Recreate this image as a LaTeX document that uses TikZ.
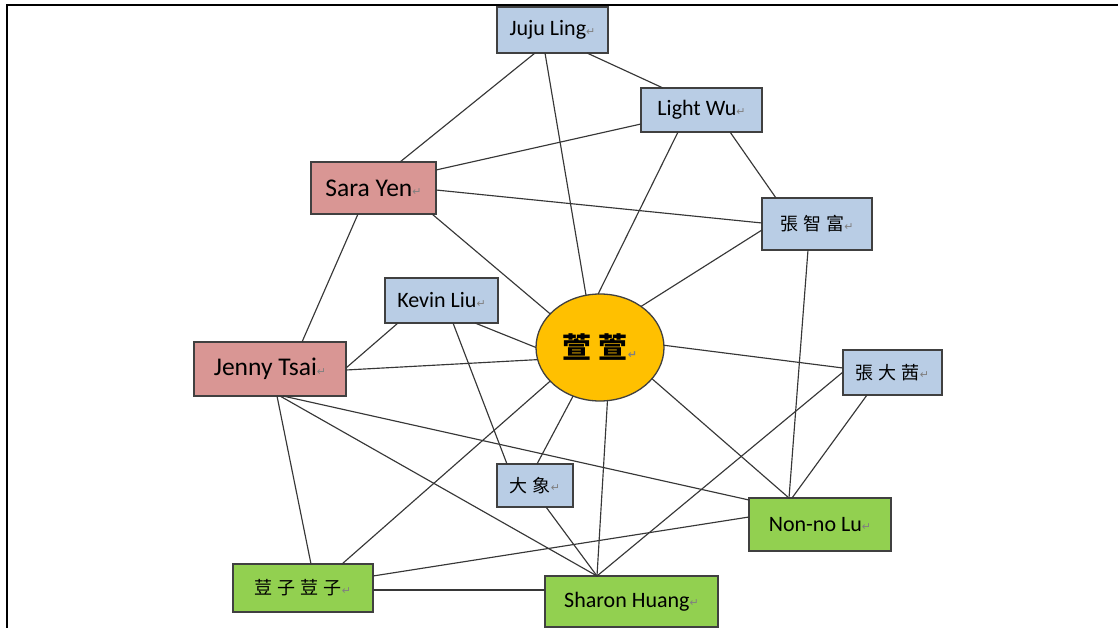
\documentclass[tikz,border=0pt]{standalone}
\usepackage{fontspec}
\setmainfont{Carlito}
\newfontfamily\cjk{Noto Sans CJK TC}
\newfontfamily\symfont{DejaVu Sans}
\usetikzlibrary{shapes.geometric}

\definecolor{boxblue}{RGB}{185,205,229}
\definecolor{boxpink}{RGB}{217,150,148}
\definecolor{boxgreen}{RGB}{146,208,80}
\definecolor{hubgold}{RGB}{255,192,0}
\definecolor{linkgray}{RGB}{55,55,55}
\definecolor{rimgray}{RGB}{64,64,64}

% paragraph mark shown after each label
\newcommand{\pmark}{{\symfont\fontsize{11}{11}\selectfont\color{gray}\raisebox{0.5pt}{↵}}}
\newcommand{\cg}{\hspace{5pt}}

\tikzset{
  person/.style={draw=rimgray, line width=1.3pt, rectangle, inner sep=0pt, outer sep=0pt,
                 text=black, font=\fontsize{22}{25}\selectfont},
  blue/.style={person, fill=boxblue},
  pink/.style={person, fill=boxpink, font=\fontsize{25.5}{28}\selectfont},
  green/.style={person, fill=boxgreen},
  hub/.style={draw=rimgray, line width=1.3pt, ellipse, fill=hubgold, inner sep=0pt, outer sep=0pt},
  link/.style={draw=linkgray, line width=1.15pt},
}

\begin{document}
\begin{tikzpicture}[x=1pt, y=-1pt]
\useasboundingbox (0,0) rectangle (1118,628);

% page frame
\draw[line width=2.4pt] (7,630) -- (7,5) -- (1120,5);

% people
\node[blue, minimum width=111pt, minimum height=46pt] (juju) at (552.5,30) {Juju Ling\pmark};
\node[blue, minimum width=121pt, minimum height=44pt] (light) at (701.5,110) {Light Wu\pmark};
\node[pink, minimum width=125pt, minimum height=52pt] (sara) at (373.5,188) {Sara Yen\pmark};
\node[blue, minimum width=110pt, minimum height=52pt] (zhi) at (817,224) {\cjk\fontsize{18}{20}\selectfont 張\cg 智\cg 富\pmark};
\node[blue, minimum width=99pt, minimum height=45pt] (dada) at (892.5,372.5) {\cjk\fontsize{18}{20}\selectfont 張\cg 大\cg 茜\pmark};
\node[blue, minimum width=113pt, minimum height=45pt] (kevin) at (441.5,300.5) {Kevin Liu\pmark};
\node[pink, minimum width=152pt, minimum height=54pt] (jenny) at (270,369) {Jenny Tsai\pmark};
\node[hub, minimum width=128pt, minimum height=107pt] (ell) at (600,347.5) {\cjk\bfseries\fontsize{29}{31}\selectfont 萱\hspace{7pt}萱\pmark};
\node[blue, minimum width=76pt, minimum height=43pt] (dax) at (535,485.5) {\cjk\fontsize{18}{20}\selectfont 大\cg 象\pmark};
\node[green, minimum width=140pt, minimum height=48pt] (douzi) at (303,588) {\cjk\fontsize{18}{20}\selectfont 荳\cg 子\cg 荳\cg 子\pmark};
\node[green, minimum width=173pt, minimum height=51pt] (sharon) at (631.5,601.5) {Sharon Huang\pmark};
\node[green, minimum width=142pt, minimum height=53pt] (nonno) at (820,524.5) {Non-no Lu\pmark};

% relations
\draw[link] ([xshift=38pt]juju.south west) -- ([xshift=89pt]sara.north west);
\draw[link] ([xshift=48pt]juju.south west) -- (ell.105);
\draw[link] ([xshift=90pt]juju.south west) -- ([xshift=22pt]light.north west);
\draw[link] ([yshift=-36pt]light.north west) -- ([yshift=-8pt]sara.north east);
\draw[link] ([xshift=37pt]light.south west) -- (ell.92);
\draw[link] ([xshift=89pt]light.south west) -- ([xshift=14pt]zhi.north west);
\draw[link] ([yshift=-28pt]sara.north east) -- ([yshift=-25pt]zhi.north west);
\draw[link] ([xshift=-4pt]sara.south east) -- (ell.146);
\draw[link] ([xshift=47pt]sara.south west) -- ([xshift=108pt]jenny.north west);
\draw[link] ([yshift=-32pt]zhi.north west) -- (ell.45);
\draw[link] ([xshift=46pt]zhi.south west) -- ([xshift=40pt]nonno.north west);
\draw[link] ([xshift=13pt]kevin.south west) -- ([yshift=-26pt]jenny.north east);
\draw[link] ([xshift=90pt]kevin.south west) -- (ell.180);
\draw[link] ([xshift=68pt]kevin.south west) -- ([xshift=10pt]dax.north west);
\draw[link] ([yshift=-28pt]jenny.north east) -- (ell.191);
\draw[link] ([xshift=83pt]jenny.south west) -- ([xshift=78pt]douzi.north west);
\draw[link] ([xshift=86pt]jenny.south west) -- ([xshift=52pt]sharon.north west);
\draw[link] ([xshift=89pt]jenny.south west) -- ([yshift=-2pt]nonno.north west);
\draw[link] (ell.2) -- ([yshift=-18pt]dada.north west);
\draw[link] (ell.-31.5) -- ([xshift=40pt]nonno.north west);
\draw[link] (ell.-82.5) -- ([xshift=52pt]sharon.north west);
\draw[link] (ell.-119) -- ([xshift=40pt]dax.north west);
\draw[link] (ell.-146) -- ([xshift=109pt]douzi.north west);
\draw[link] ([xshift=24pt]dada.south west) -- ([xshift=43pt]nonno.north west);
\draw[link] ([yshift=-22pt]dada.north west) -- ([xshift=52pt]sharon.north west);
\draw[link] ([xshift=49pt]dax.south west) -- ([xshift=52pt]sharon.north west);
\draw[link] ([yshift=-19pt]nonno.north west) -- ([yshift=-12pt]douzi.north east);
\draw[link] ([yshift=-26pt]douzi.north east) -- ([yshift=-14pt]sharon.north west);
\end{tikzpicture}
\end{document}
